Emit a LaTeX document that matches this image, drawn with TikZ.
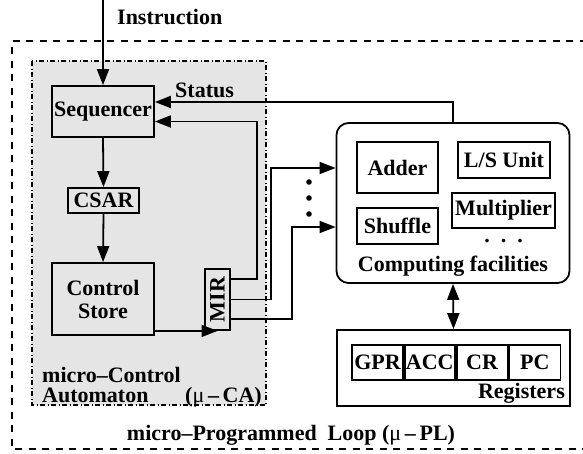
\documentclass[tikz,border=0pt]{standalone}
\usepackage{fontspec}
\setmainfont{Liberation Serif}
\usetikzlibrary{arrows.meta,positioning,calc}
\tikzset{
  box/.style={draw, line width=1.8pt, inner sep=0pt, align=center},
  tip/.tip={Triangle[length=16pt,width=12pt]},
  arr/.style={line width=1.8pt, -tip},
  dbl/.style={line width=1.8pt, tip-tip},
  lbl/.style={inner sep=0pt},
}
\begin{document}
\begin{tikzpicture}[x=1pt,y=-1pt,font=\fontsize{22}{23}\selectfont\bfseries]
\useasboundingbox (0,0) rectangle (583,453);
\fill[white] (0,0) rectangle (583,453);
\begin{scope}
\clip (0,0) rectangle (583,453);
% outer programmed-loop frame (open to the right)
\draw[line width=1.5pt, dash pattern=on 7pt off 6.5pt] (600,41) -- (12,41) -- (12,449) -- (600,449);
\end{scope}
% micro-control automaton region
\draw[fill=black!10, line width=1.2pt, dash pattern=on 5pt off 2.5pt on 1pt off 2.5pt] (32,61) rectangle (266,405);

% sequencer path
\node[box, minimum width=102pt, minimum height=51pt] (seq) at (103,111.5) {Sequencer};
\node[box, minimum width=71pt, minimum height=25pt] (csar) at (103.5,200.5) {CSAR};
\node[box, minimum width=102pt, minimum height=72pt] (cs) at (103,299) {Control\\Store};
\node[box, minimum width=61pt, minimum height=25pt, rotate=90] (mir) at (217.5,299.5) {MIR};

\coordinate (instr) at (103,0);
\draw[arr] (instr) -- (seq.north);
\node[lbl, anchor=west] (instrlbl) at (117,17) {Instruction};
\draw[arr] (seq.south) -- (csar.north);
\draw[arr] (csar.south) -- (cs.north);
\draw[arr] (cs.east |- mir.west) -- (mir.west);

% computing facilities
\node[box, rounded corners=12pt, minimum width=233pt, minimum height=160pt] (comp) at (453,203) {};
\node[box, minimum width=81pt, minimum height=51pt] (adder) at (397.5,167.5) {Adder};
\node[box, minimum width=92pt, minimum height=36pt] (ls) at (504,160) {L/S Unit};
\node[box, minimum width=81pt, minimum height=36pt] (shuf) at (397.5,226) {Shuffle};
\node[box, minimum width=103pt, minimum height=35pt] (mult) at (503.5,210.5) {Multiplier};
\node[lbl] (moredots) at (503.5,241) {.\hspace{11pt}.\hspace{11pt}.};
\node[lbl] (complbl) at (453,266) {Computing facilities};

% registers
\node[box, minimum width=233pt, minimum height=76pt] (regs) at (453.5,368) {};
\node[box, minimum width=51pt, minimum height=35pt] (gpr) at (377.5,362.5) {GPR};
\node[box, minimum width=50pt, minimum height=35pt, right=0pt of gpr] (acc) {ACC};
\node[box, minimum width=51pt, minimum height=35pt, right=0pt of acc] (cr) {CR};
\node[box, minimum width=51pt, minimum height=35pt, right=0pt of cr] (pc) {PC};
\node[lbl, anchor=east] (reglbl) at (565,393) {Registers};
\draw[dbl] (comp.south) -- (regs.north);

% status feedback
\draw[arr] (comp.north) |- ([yshift=9.5pt]seq.east);
\node[lbl, anchor=west] (status) at (175,90) {Status};

% MIR outputs
\draw[arr] ([yshift=20.5pt]mir.south) -- ++(26,0) |- ([yshift=-10pt]seq.east);
\draw[arr] (mir.south) -- (271,299.5) |- ([yshift=35pt]comp.west);
\draw[arr] ([yshift=-19.5pt]mir.south) -- (292,319) |- ([yshift=-24pt]comp.west);

% ellipsis between the MIR lines
\foreach \yy/\nm in {182/a,198/b,214/c}
  \fill (309,\yy) circle (2.8pt) coordinate (dot\nm);

% region labels
\node[lbl, anchor=base west] (mca1) at (42,382) {micro–Control};
\node[lbl, anchor=base west] (mca2) at (42,402) {Automaton};
\node[lbl, anchor=base east] (mca3) at (262,402) {(\textmd{μ}\,–\,CA)};
\node[lbl, anchor=base] (mpl) at (291,440) {micro–Programmed\ \ Loop\ (\textmd{μ}\,–\,PL)};
\end{tikzpicture}
\end{document}
